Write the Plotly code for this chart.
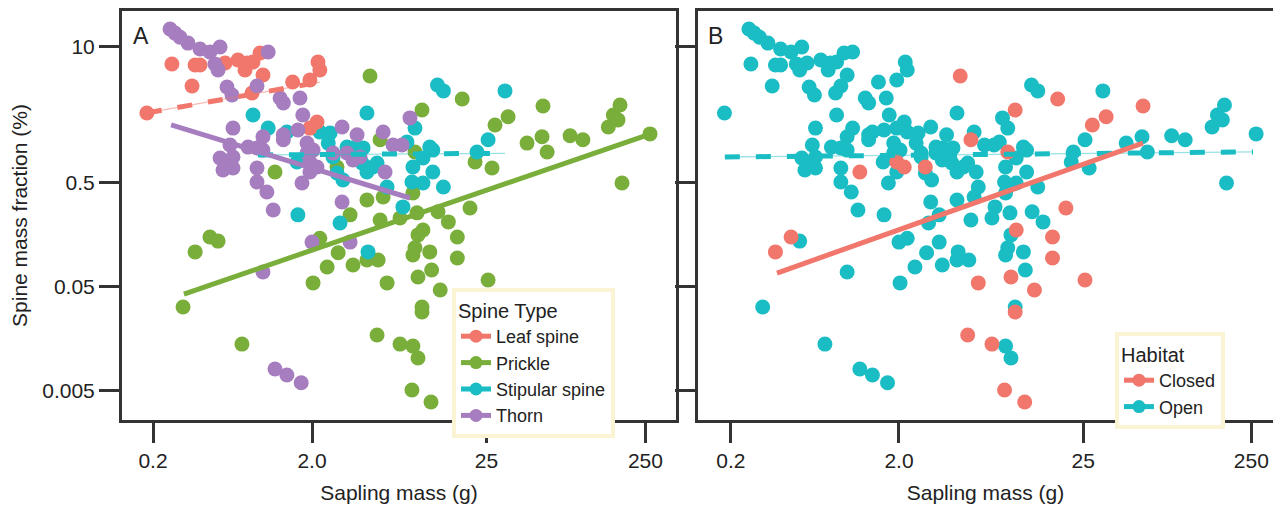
import plotly.graph_objects as go

W, H = 1273, 505

# ---------------- data ----------------
# Sapling mass (g) and spine mass fraction (%) per sapling, by spine type.
leaf_mass = [0.263, 0.368, 0.395, 0.506, 0.568, 0.685, 0.781, 0.758, 0.851, 0.942,
             0.983, 0.352, 0.839, 1.51, 1.94, 2.18, 2.24, 0.183, 2.15, 1.94]
leaf_frac = [6.86, 6.71, 6.71, 6.71, 7.02, 7.50, 7.02, 6.01, 7.17, 8.76,
             5.38, 4.22, 3.61, 4.61, 4.82, 7.17, 6.01, 2.32, 1.90, 1.66]
leaf_habitat = "OOOOOOOOOO" "OOOOOOOOOO"

prickle_mass = [4.63, 1.17, 2.87, 5.36, 4.43, 3.47, 2.24, 9.15, 9.83, 0.456,
                0.513, 0.368, 5.60, 5.36, 17.6, 28.3, 34.2, 56.7, 45.0, 55.9,
                60.2, 83.9, 101, 146, 157, 173, 168, 267, 178, 21.2,
                27.1, 8.88, 8.62, 19.7, 12.4, 14.4, 9.97, 9.28, 16.4, 8.88,
                8.62, 11.0, 16.4, 11.3, 9.28, 12.8, 25.6, 9.83, 9.83, 7.15,
                8.62, 9.28, 8.50, 11.2, 0.309, 0.725, 2.03, 2.49, 2.92, 3.62,
                4.43, 5.21, 5.93, 5.13, 7.15]
prickle_frac = [5.26, 0.627, 0.701, 1.28, 0.338, 0.243, 0.145, 0.254, 2.48, 0.149,
                0.136, 0.107, 0.361, 0.217, 3.16, 1.78, 2.13, 2.71, 1.19, 1.37,
                0.976, 1.40, 1.28, 1.70, 2.22, 2.77, 1.99, 1.46, 0.492, 0.783,
                0.686, 0.976, 0.394, 0.283, 0.260, 0.208, 0.174, 0.156, 0.149, 0.117,
                0.100, 0.107, 0.0935, 0.0717, 0.0614, 0.0461, 0.0575, 0.0316, 0.0283, 0.0139,
                0.0133, 0.0102, 0.00503, 0.00386, 0.0316, 0.0139, 0.0539, 0.0766, 0.105, 0.0801,
                0.0895, 0.0895, 0.0539, 0.0170, 0.227]
prickle_habitat = ("CCCCOOOOCC" "OCOOCCCCOO" "OOOOOOOOOO" "OCOCOOCOCO"
                   "OOCOCCCOCC" "OOCCOOOOOO" "OOCCO")

stip_mass = [0.851, 1.06, 4.43, 1.39, 2.24, 2.60, 2.53, 3.32, 3.62, 4.19,
             2.71, 1.61, 2.87, 3.13, 4.13, 4.43, 4.83, 5.13, 5.93, 7.46,
             8.50, 8.62, 7.91, 8.88, 1.63, 3.00, 4.50, 12.3, 13.4, 32.7,
             11.0, 11.5, 9.97, 11.5, 9.97, 13.4, 21.8, 25.6]
stip_frac = [2.22, 1.66, 2.32, 1.52, 1.52, 1.49, 1.19, 1.09, 1.07, 1.07,
             0.876, 0.783, 0.614, 0.526, 0.766, 0.627, 0.701, 0.766, 0.451, 0.290,
             0.503, 0.701, 1.22, 1.66, 0.243, 0.203, 0.107, 4.31, 3.78, 3.78,
             1.09, 1.02, 0.856, 0.627, 0.492, 0.451, 0.976, 1.28]
stip_habitat = "OOOOOOOOOO" "OOOOOOOOOO" "OOOOOOOOOO" "OOOOOOOO"

thorn_mass = [0.256, 0.275, 0.296, 0.332, 0.395, 0.456, 0.528, 0.490, 0.513, 1.06,
              0.584, 0.628, 0.902, 1.26, 1.32, 1.68, 1.75, 0.637, 0.983, 1.32,
              1.63, 3.09, 3.84, 5.60, 8.26, 6.46, 7.36, 0.610, 0.792, 0.902,
              0.983, 0.528, 0.584, 0.637, 0.551, 0.637, 0.902, 0.902, 1.04, 1.14,
              1.73, 1.32, 1.86, 2.03, 1.86, 1.94, 2.15, 1.94, 2.71, 3.32,
              3.62, 4.01, 5.76, 3.09, 2.00, 3.47, 0.983, 1.17, 1.39, 1.71]
thorn_frac = [14.9, 13.6, 12.4, 10.9, 9.57, 8.95, 10.0, 6.86, 6.01, 8.95,
              4.12, 3.45, 4.22, 3.23, 2.90, 3.23, 2.22, 1.66, 1.37, 1.43,
              1.59, 1.70, 1.43, 1.52, 2.08, 1.14, 1.14, 1.14, 1.09, 1.07,
              1.02, 0.856, 0.766, 0.876, 0.656, 0.686, 0.686, 0.503, 0.403, 0.271,
              0.492, 1.28, 1.19, 1.02, 0.957, 0.783, 0.701, 0.627, 0.957, 0.957,
              0.819, 0.876, 0.627, 0.323, 0.133, 0.133, 0.0686, 0.0080, 0.0070, 0.0059]
thorn_habitat = "OOOOOOOOOO" "OOOOOOOOOO" "OOOOOOOOOO" "OOOOOOOOOO" "OOOOOCCOOO" "OOOOOOOOOO"

# fitted trend lines (end points)
fit_leaf_x, fit_leaf_y = [0.183, 2.24], [2.32, 4.6]
fit_prickle_x, fit_prickle_y = [0.313, 267], [0.042, 1.455]
fit_stip_x, fit_stip_y = [0.914, 32.7], [0.916, 0.95]
fit_thorn_x, fit_thorn_y = [0.26, 8.26], [1.78, 0.353]
fit_closed_x, fit_closed_y = [0.376, 56.6], [0.067, 1.19]
fit_open_x, fit_open_y = [0.184, 256], [0.875, 0.98]

x_tickvals = [0.2, 2, 25, 250]
x_ticktext = ["0.2", "2.0", "25", "250"]
y_tickvals = [0.005, 0.05, 0.5, 10]
y_ticktext = ["0.005", "0.05", "0.5", "10"]

# ---------------- styles ----------------
RED = "#F1766C"
GREEN = "#79AE3B"
CYAN = "#1BBDC4"
PURPLE = "#A67EBF"
AX = "#333333"
TXT = "#222222"
FONT = "Liberation Sans, Arial, Helvetica, sans-serif"
MS = 15

fig = go.Figure()

# ---------------- panel A points ----------------
for m, f, c in [(prickle_mass, prickle_frac, GREEN),
                (stip_mass, stip_frac, CYAN),
                (leaf_mass, leaf_frac, RED),
                (thorn_mass, thorn_frac, PURPLE)]:
    fig.add_trace(go.Scatter(x=m, y=f, mode="markers", xaxis="x", yaxis="y",
                             marker=dict(size=MS, color=c, line=dict(width=0)),
                             showlegend=False, hoverinfo="skip"))


def add_fit(xs, ys, color, faint, dashed, xa, ya):
    if dashed:
        fig.add_trace(go.Scatter(x=xs, y=ys, mode="lines", xaxis=xa, yaxis=ya,
                                 line=dict(color=faint, width=1.3),
                                 showlegend=False, hoverinfo="skip"))
        fig.add_trace(go.Scatter(x=xs, y=ys, mode="lines", xaxis=xa, yaxis=ya,
                                 line=dict(color=color, width=5, dash="15px,16px"),
                                 showlegend=False, hoverinfo="skip"))
    else:
        fig.add_trace(go.Scatter(x=xs, y=ys, mode="lines", xaxis=xa, yaxis=ya,
                                 line=dict(color=color, width=5),
                                 showlegend=False, hoverinfo="skip"))


add_fit(fit_leaf_x, fit_leaf_y, RED, "rgba(241,118,108,0.5)", True, "x", "y")
add_fit(fit_prickle_x, fit_prickle_y, GREEN, None, False, "x", "y")
add_fit(fit_stip_x, fit_stip_y, CYAN, "rgba(27,189,196,0.45)", True, "x", "y")
add_fit(fit_thorn_x, fit_thorn_y, PURPLE, None, False, "x", "y")

# ---------------- panel B points ----------------
all_mass = leaf_mass + prickle_mass + stip_mass + thorn_mass
all_frac = leaf_frac + prickle_frac + stip_frac + thorn_frac
all_hab = leaf_habitat + prickle_habitat + stip_habitat + thorn_habitat

open_x = [m for m, h in zip(all_mass, all_hab) if h == "O"]
open_y = [f for f, h in zip(all_frac, all_hab) if h == "O"]
closed_x = [m for m, h in zip(all_mass, all_hab) if h == "C"]
closed_y = [f for f, h in zip(all_frac, all_hab) if h == "C"]

fig.add_trace(go.Scatter(x=open_x, y=open_y, mode="markers", xaxis="x2", yaxis="y2",
                         marker=dict(size=MS, color=CYAN, line=dict(width=0)),
                         showlegend=False, hoverinfo="skip"))
fig.add_trace(go.Scatter(x=closed_x, y=closed_y, mode="markers", xaxis="x2", yaxis="y2",
                         marker=dict(size=MS, color=RED, line=dict(width=0)),
                         showlegend=False, hoverinfo="skip"))
add_fit(fit_open_x, fit_open_y, CYAN, "rgba(27,189,196,0.45)", True, "x2", "y2")
add_fit(fit_closed_x, fit_closed_y, RED, None, False, "x2", "y2")

# ---------------- legend entries ----------------
for name, c in [("Leaf spine", RED), ("Prickle", GREEN), ("Stipular spine", CYAN), ("Thorn", PURPLE)]:
    fig.add_trace(go.Scatter(x=[None], y=[None], mode="lines+markers", name=name,
                             xaxis="x", yaxis="y", legend="legend",
                             line=dict(color=c, width=5), marker=dict(size=13, color=c)))
for name, c in [("Closed", RED), ("Open", CYAN)]:
    fig.add_trace(go.Scatter(x=[None], y=[None], mode="lines+markers", name=name,
                             xaxis="x2", yaxis="y2", legend="legend2",
                             line=dict(color=c, width=5), marker=dict(size=13, color=c)))

# ---------------- layout ----------------
ydom = [1 - 420 / H, 1 - 11 / H]
common_axis = dict(type="log", showgrid=False, zeroline=False, showline=True,
                   linewidth=3, linecolor=AX, ticks="outside", ticklen=20,
                   tickwidth=3, tickcolor=AX, tickfont=dict(size=21, color=TXT, family=FONT))

fig.update_layout(
    width=W, height=H,
    margin=dict(l=0, r=0, t=0, b=0),
    paper_bgcolor="white", plot_bgcolor="white",
    font=dict(family=FONT, size=21, color=TXT),
    xaxis=dict(domain=[122 / W, 676 / W], range=[-0.894, 2.590], anchor="y",
               tickvals=x_tickvals, ticktext=x_ticktext, mirror=True,
               title=dict(text="Sapling mass (g)", font=dict(size=21, color=TXT), standoff=15),
               **common_axis),
    yaxis=dict(domain=ydom, range=[-2.587, 1.346], anchor="x",
               tickvals=y_tickvals, ticktext=y_ticktext, mirror=True,
               title=dict(text="Spine mass fraction (%)", font=dict(size=21, color=TXT), standoff=9),
               **common_axis),
    xaxis2=dict(domain=[698 / W, 1.0], range=[-0.895, 2.527], anchor="y2",
                tickvals=x_tickvals, ticktext=x_ticktext, mirror=True,
                title=dict(text="Sapling mass (g)", font=dict(size=21, color=TXT), standoff=15),
                **common_axis),
    yaxis2=dict(domain=ydom, range=[-2.587, 1.346], anchor="x2",
                tickvals=y_tickvals, ticktext=y_ticktext, showticklabels=False, mirror=False,
                **common_axis),
    legend=dict(x=452 / W, y=1 - 288 / H, xanchor="left", yanchor="top",
                bgcolor="white", bordercolor="#FAF3D4", borderwidth=4,
                font=dict(size=18, color=TXT), itemwidth=30, tracegroupgap=0,
                title=dict(text="Spine Type", font=dict(size=20, color=TXT))),
    legend2=dict(x=1115 / W, y=1 - 332 / H, xanchor="left", yanchor="top",
                 bgcolor="white", bordercolor="#FAF3D4", borderwidth=4,
                 font=dict(size=18, color=TXT), itemwidth=30, tracegroupgap=0,
                 title=dict(text="Habitat", font=dict(size=20, color=TXT))),
    annotations=[
        dict(text="A", x=131 / W, y=1 - 21 / H, xref="paper", yref="paper",
             xanchor="left", yanchor="top", showarrow=False, font=dict(size=23, color=TXT)),
        dict(text="B", x=706 / W, y=1 - 21 / H, xref="paper", yref="paper",
             xanchor="left", yanchor="top", showarrow=False, font=dict(size=23, color=TXT)),
    ],
)

fig.write_html("out.html", config={"displayModeBar": False},
               post_script="document.body.style.margin='0';document.body.style.padding='0';")
